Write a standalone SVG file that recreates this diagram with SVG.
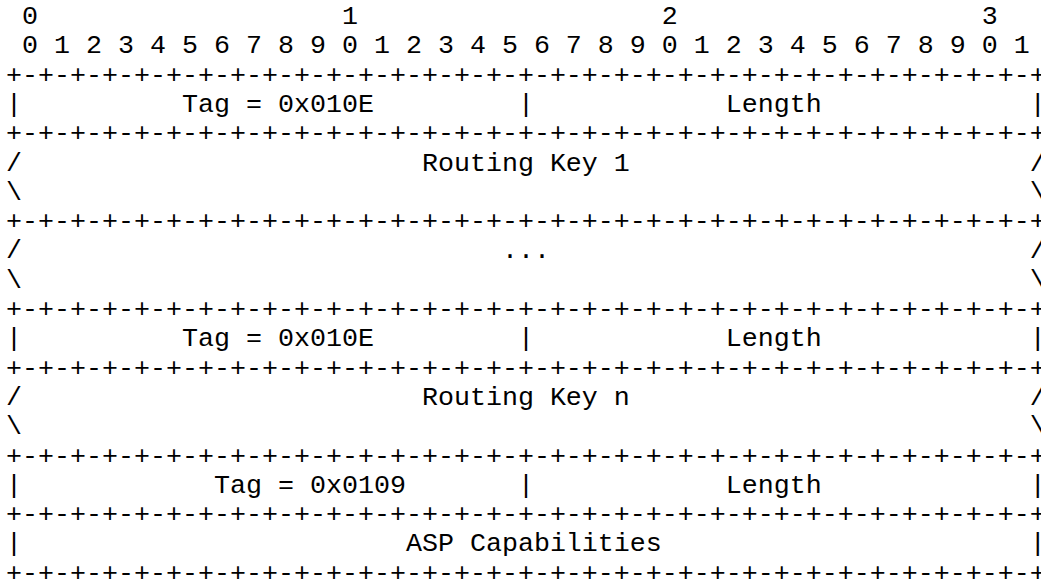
<svg xmlns="http://www.w3.org/2000/svg" width="1041" height="583" viewBox="0 0 1041 583">
<style>
  text { font-family: "Liberation Mono", "DejaVu Sans Mono", monospace; font-size: 26.67px; fill: #000; white-space: pre; }
</style>
<rect x="0" y="0" width="1041" height="583" fill="#fff"/>
<g id="bit-ruler">
  <text x="6" y="24" xml:space="preserve"> 0                   1                   2                   3</text>
  <text x="6" y="53.3" xml:space="preserve"> 0 1 2 3 4 5 6 7 8 9 0 1 2 3 4 5 6 7 8 9 0 1 2 3 4 5 6 7 8 9 0 1</text>
</g>
<g id="connectors">
  <text x="6" y="82.6" xml:space="preserve">+-+-+-+-+-+-+-+-+-+-+-+-+-+-+-+-+-+-+-+-+-+-+-+-+-+-+-+-+-+-+-+-+</text>
  <text x="6" y="141.2" xml:space="preserve">+-+-+-+-+-+-+-+-+-+-+-+-+-+-+-+-+-+-+-+-+-+-+-+-+-+-+-+-+-+-+-+-+</text>
  <text x="6" y="229.1" xml:space="preserve">+-+-+-+-+-+-+-+-+-+-+-+-+-+-+-+-+-+-+-+-+-+-+-+-+-+-+-+-+-+-+-+-+</text>
  <text x="6" y="317" xml:space="preserve">+-+-+-+-+-+-+-+-+-+-+-+-+-+-+-+-+-+-+-+-+-+-+-+-+-+-+-+-+-+-+-+-+</text>
  <text x="6" y="375.6" xml:space="preserve">+-+-+-+-+-+-+-+-+-+-+-+-+-+-+-+-+-+-+-+-+-+-+-+-+-+-+-+-+-+-+-+-+</text>
  <text x="6" y="463.5" xml:space="preserve">+-+-+-+-+-+-+-+-+-+-+-+-+-+-+-+-+-+-+-+-+-+-+-+-+-+-+-+-+-+-+-+-+</text>
  <text x="6" y="522.1" xml:space="preserve">+-+-+-+-+-+-+-+-+-+-+-+-+-+-+-+-+-+-+-+-+-+-+-+-+-+-+-+-+-+-+-+-+</text>
  <text x="6" y="580.7" xml:space="preserve">+-+-+-+-+-+-+-+-+-+-+-+-+-+-+-+-+-+-+-+-+-+-+-+-+-+-+-+-+-+-+-+-+</text>
</g>
<g id="tag-length-1">
  <text x="6" y="111.9" xml:space="preserve">|          Tag = 0x010E         |            Length             |</text>
</g>
<g id="routing-key-1">
  <text x="6" y="170.5" xml:space="preserve">/                         Routing Key 1                         /</text>
  <text x="6" y="199.8" xml:space="preserve">\                                                               \</text>
</g>
<g id="routing-key-ellipsis">
  <text x="6" y="258.4" xml:space="preserve">/                              ...                              /</text>
  <text x="6" y="287.7" xml:space="preserve">\                                                               \</text>
</g>
<g id="tag-length-n">
  <text x="6" y="346.3" xml:space="preserve">|          Tag = 0x010E         |            Length             |</text>
</g>
<g id="routing-key-n">
  <text x="6" y="404.9" xml:space="preserve">/                         Routing Key n                         /</text>
  <text x="6" y="434.2" xml:space="preserve">\                                                               \</text>
</g>
<g id="tag-length-asp">
  <text x="6" y="492.8" xml:space="preserve">|            Tag = 0x0109       |            Length             |</text>
</g>
<g id="asp-capabilities">
  <text x="6" y="551.4" xml:space="preserve">|                        ASP Capabilities                       |</text>
</g>
</svg>
